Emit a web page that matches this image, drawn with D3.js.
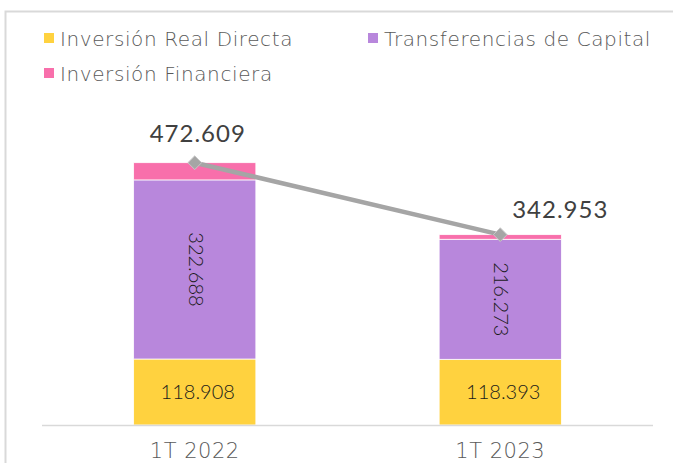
<!DOCTYPE html>
<html>
<head>
<meta charset="utf-8">
<script src="https://cdn.jsdelivr.net/npm/d3@7"></script>
<style>
  body { margin: 0; background: #fff; }
  #chart { width: 673px; height: 463px; }
  text { font-family: "Lato", sans-serif; }
  .thin { font-family: "DejaVu Sans", sans-serif; font-weight: 200; }
</style>
</head>
<body>
<div id="chart"></div>
<script>
// data
const periods = ["1T 2022", "1T 2023"];
const seriesNames = ["Inversión Real Directa", "Transferencias de Capital", "Inversión Financiera"];
const realDirecta = [118.908, 118.393];
const transferencias = [322.688, 216.273];
const financiera = [31.013, 8.287];
const totals = [472.609, 342.953];
const colors = ["#ffd23f", "#b887dc", "#f86fab"];

const fmt3 = v => v.toFixed(3);

const W = 673, H = 463;
const svg = d3.select("#chart").append("svg")
    .attr("width", W)
    .attr("height", H);

// outer frame
svg.append("rect")
    .attr("x", 5.5).attr("y", 11.5)
    .attr("width", 700).attr("height", 500)
    .attr("fill", "none")
    .attr("stroke", "#d9d9d9")
    .attr("stroke-width", 2);

const x = d3.scaleBand()
    .domain(periods)
    .range([42, 653])
    .paddingInner(0.6)
    .paddingOuter(0.3);

const y = d3.scaleLinear()
    .domain([0, 600])
    .range([425, 92]);

const rows = periods.map((p, i) => ({
    period: p,
    s0: realDirecta[i],
    s1: transferencias[i],
    s2: financiera[i]
}));
const stack = d3.stack().keys(["s0", "s1", "s2"])(rows);

const g = svg.append("g");
stack.forEach((layer, li) => {
    g.selectAll(null)
        .data(layer)
        .join("rect")
        .attr("x", d => x(d.data.period))
        .attr("y", d => y(d[1]))
        .attr("width", x.bandwidth())
        .attr("height", d => y(d[0]) - y(d[1]))
        .attr("fill", colors[li])
        .attr("stroke", "#fff")
        .attr("stroke-width", 0.75);
});

// axis baseline
svg.append("line")
    .attr("x1", 42).attr("x2", 653)
    .attr("y1", y(0) + 0.5).attr("y2", y(0) + 0.5)
    .attr("stroke", "#d9d9d9")
    .attr("stroke-width", 1.5);

// category labels
svg.selectAll(".cat")
    .data(periods)
    .join("text")
    .attr("class", "cat thin")
    .attr("x", d => x(d) + x.bandwidth() / 2)
    .attr("y", 458)
    .attr("text-anchor", "middle")
    .attr("fill", "#595959")
    .style("font-size", "21px")
    .style("letter-spacing", "0.5px")
    .text(d => d);

// yellow labels
svg.selectAll(".lab0")
    .data(stack[0])
    .join("text")
    .attr("x", d => x(d.data.period) + x.bandwidth() / 2 + 3)
    .attr("y", d => (y(d[0]) + y(d[1])) / 2 + 7)
    .attr("text-anchor", "middle")
    .attr("fill", "#1a1a1a")
    .style("font-size", "20px")
    .style("font-weight", 300)
    .text(d => fmt3(d[1] - d[0]));

// purple labels, rotated
svg.selectAll(".lab1")
    .data(stack[1])
    .join("text")
    .attr("transform", d => `translate(${x(d.data.period) + x.bandwidth() / 2 - 6},${(y(d[0]) + y(d[1])) / 2}) rotate(90)`)
    .attr("text-anchor", "middle")
    .attr("fill", "#1a1a1a")
    .style("font-size", "20px")
    .style("font-weight", 300)
    .text(d => fmt3(d[1] - d[0]));

// total line
const pts = periods.map((p, i) => [x(p) + x.bandwidth() / 2, y(totals[i])]);
svg.append("path")
    .attr("d", d3.line()(pts))
    .attr("fill", "none")
    .attr("stroke", "#a5a5a5")
    .attr("stroke-width", 4.5);

svg.selectAll(".mark")
    .data(pts)
    .join("path")
    .attr("transform", d => `translate(${d[0]},${d[1]})`)
    .attr("d", d3.symbol(d3.symbolDiamond2, 120))
    .attr("fill", "#a5a5a5")
    .attr("stroke", "#c8c8c8")
    .attr("stroke-width", 1);

// total labels
const totOffsets = [[3, -21], [60, -17]];
svg.selectAll(".tot")
    .data(pts)
    .join("text")
    .attr("x", (d, i) => d[0] + totOffsets[i][0])
    .attr("y", (d, i) => d[1] + totOffsets[i][1])
    .attr("text-anchor", "middle")
    .attr("fill", "#404040")
    .style("font-size", "24px")
    .style("letter-spacing", "1px")
    .text((d, i) => fmt3(totals[i]));

// legend
const legPos = [[44, 46], [368, 46], [44, 81]];
const leg = svg.selectAll(".leg")
    .data(seriesNames)
    .join("g")
    .attr("transform", (d, i) => `translate(${legPos[i][0]},${legPos[i][1]})`);
leg.append("rect")
    .attr("x", 0).attr("y", -13)
    .attr("width", 10).attr("height", 10)
    .attr("fill", (d, i) => colors[i]);
leg.append("text")
    .attr("class", "thin")
    .attr("x", 16).attr("y", 0)
    .attr("fill", "#595959")
    .style("font-size", "20px")
    .style("letter-spacing", "0.6px")
    .text(d => d);
</script>
</body>
</html>
